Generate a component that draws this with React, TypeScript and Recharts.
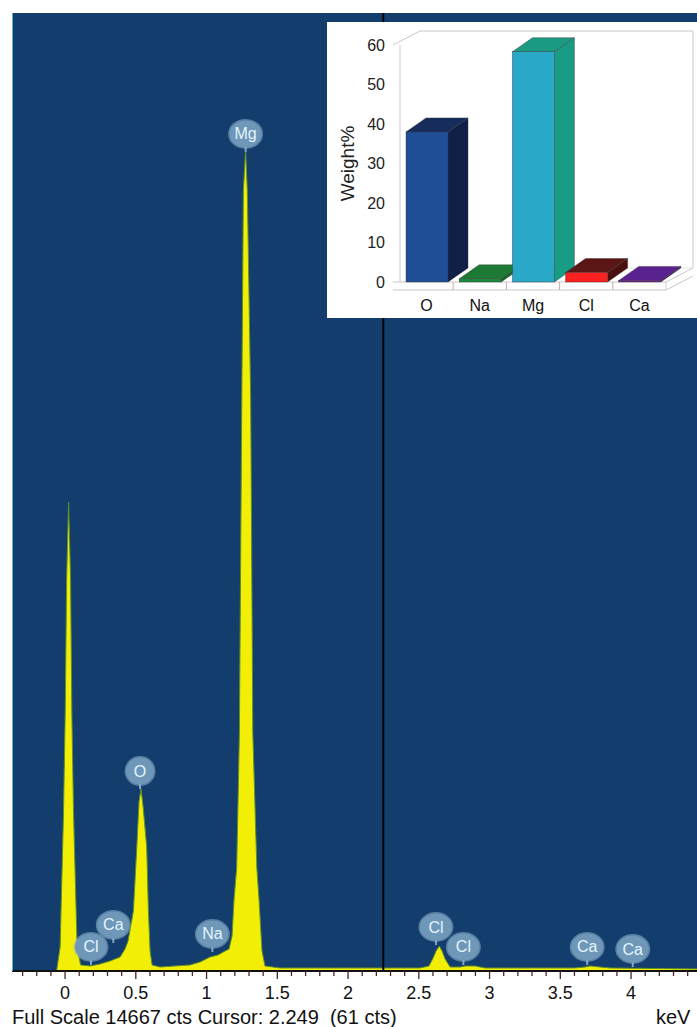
import React from 'react';
import {
    AreaChart, Area, XAxis, YAxis, CartesianGrid, ReferenceLine, ReferenceDot,
    BarChart, Bar
} from 'recharts';

// EDS spectrum (keV, counts)
const energies = [
    -0.060, -0.035, -0.011, 0.001, 0.011, 0.025, 0.039, 0.048, 0.060, 0.085, 0.110,
    0.177, 0.247, 0.318, 0.389, 0.424, 0.445, 0.459, 0.483, 0.507, 0.523, 0.537,
    0.551, 0.577, 0.589, 0.601, 0.615, 0.671, 0.777, 0.883, 0.954, 1.025, 1.081,
    1.131, 1.159, 1.180, 1.194, 1.213, 1.232, 1.249, 1.260, 1.276, 1.288, 1.312,
    1.327, 1.355, 1.371, 1.392, 1.413, 1.519, 1.873, 2.200, 2.509, 2.572, 2.601,
    2.622, 2.645, 2.664, 2.686, 2.721, 2.792, 2.827, 2.898, 2.968, 3.300, 3.600,
    3.675, 3.710, 3.781, 3.852, 4.466
];
const counts = [
    0, 367, 2419, 3950, 5986, 7180, 5986, 3950, 2419, 367, 92,
    77, 107, 153, 214, 337, 459, 628, 919, 1898, 2603, 2786,
    2526, 1898, 919, 306, 92, 61, 77, 92, 138, 214, 245,
    306, 337, 536, 1087, 1592, 3644, 8742, 11942, 12570, 11942, 8742,
    3644, 1592, 1087, 306, 77, 46, 46, 46, 46, 77, 199,
    306, 383, 306, 184, 61, 61, 77, 77, 46, 46, 46,
    61, 77, 61, 46, 31
];

// peak markers (element, keV, counts at stem foot)
const peakNames = ['Cl', 'Ca', 'O', 'Na', 'Mg', 'Cl', 'Cl', 'Ca', 'Ca'];
const peakKev = [0.183, 0.341, 0.530, 1.041, 1.276, 2.621, 2.815, 3.690, 4.012];
const peakCts = [92, 429, 2786, 291, 12540, 398, 92, 92, 61];

const axisTicks = [
    -0.3, -0.2, -0.1, 0, 0.1, 0.2, 0.3, 0.4, 0.5, 0.6, 0.7, 0.8, 0.9, 1, 1.1, 1.2, 1.3, 1.4,
    1.5, 1.6, 1.7, 1.8, 1.9, 2, 2.1, 2.2, 2.3, 2.4, 2.5, 2.6, 2.7, 2.8, 2.9, 3, 3.1, 3.2,
    3.3, 3.4, 3.5, 3.6, 3.7, 3.8, 3.9, 4, 4.1, 4.2, 4.3, 4.4
];

// inset: quantification
const elements = ['O', 'Na', 'Mg', 'Cl', 'Ca'];
const weightPct = [38.0, 0.8, 58.3, 2.4, 0.4];
const weightTicks = [0, 10, 20, 30, 40, 50, 60];

const FULL_SCALE = 14667;
const CURSOR = 2.249;
const NAVY = '#133d6c';
const FONT = '"Liberation Sans", Arial, sans-serif';

// front / side / top colour for each inset bar
const FACES = [
    { front: '#1f4e96', side: '#0f1f48', top: '#162c5c' },
    { front: '#1a8a3c', side: '#14662c', top: '#1d7a34' },
    { front: '#29a8c8', side: '#189c84', top: '#1a9a80' },
    { front: '#ff2020', side: '#4a1010', top: '#5c1515' },
    { front: '#6a1f8e', side: '#4a1468', top: '#5a2290' },
];

const spectrum = energies.map((kev, i) => ({ kev, cts: counts[i] }));
const composition = elements.map((el, i) => ({ el, wt: weightPct[i] }));

function AxisTick(props: any) {
    const { x, y, payload } = props;
    const v = payload.value;
    const major = Math.abs(v * 2 - Math.round(v * 2)) < 1e-6;
    return (
        <g>
            <line x1={x} y1={y} x2={x} y2={y + (major ? 8 : 5)} stroke="#4a2626" strokeWidth={1.3} />
            {major && (
                <text x={x} y={y + 28} textAnchor="middle" fontSize={18} fill="#111" fontFamily={FONT}>
                    {String(v)}
                </text>
            )}
        </g>
    );
}

function Balloon(props: any) {
    const { cx, cy, name } = props;
    const rx = name.length > 1 ? 16 : 14;
    const c = cy - 18;
    return (
        <g>
            <line x1={cx} y1={cy} x2={cx} y2={c} stroke="#7fa6c2" strokeWidth={2} />
            <ellipse cx={cx} cy={c} rx={rx + 1.5} ry={15} fill="#8fb4cf" opacity={0.55} />
            <ellipse cx={cx} cy={c} rx={rx} ry={13.5} fill="#6f98b8" />
            <text x={cx} y={c + 5.5} textAnchor="middle" fontSize={16} fill="#e4f4ff" fontFamily={FONT}>
                {name}
            </text>
        </g>
    );
}

const DX = 20;
const DY = -14;

function Bar3D(props: any) {
    const { x, y, width, height, index } = props;
    const f = FACES[index % FACES.length];
    const side = `${x + width},${y} ${x + width + DX},${y + DY} ${x + width + DX},${y + height + DY} ${x + width},${y + height}`;
    const top = `${x},${y} ${x + DX},${y + DY} ${x + width + DX},${y + DY} ${x + width},${y}`;
    return (
        <g>
            <polygon points={side} fill={f.side} stroke="#333" strokeWidth={0.4} />
            <polygon points={top} fill={f.top} stroke="#333" strokeWidth={0.4} />
            <rect x={x} y={y} width={width} height={height} fill={f.front} stroke="#333" strokeWidth={0.4} />
        </g>
    );
}

function InsetFrame() {
    // 3D box behind the inset bars (inset plot: x 73..339, y 23..260)
    const L = 73, R = 339, T = 23, B = 260;
    const band = (R - L) / elements.length;
    const g = '#c9c9c9';
    return (
        <svg width={370} height={296} style={{ position: 'absolute', left: 0, top: 0 }}>
            <line x1={L} y1={T} x2={L} y2={B} stroke={g} />
            <line x1={L - 7} y1={T} x2={L + DX} y2={T + DY} stroke={g} />
            <line x1={L + DX} y1={T + DY} x2={R + 27} y2={T + DY} stroke={g} />
            <line x1={R + 27} y1={T + DY} x2={R + 27} y2={B + DY} stroke={g} />
            <line x1={L + DX} y1={B + DY} x2={R + 27} y2={B + DY} stroke="#e2e2e2" />
            <line x1={L - 7} y1={B} x2={R} y2={B} stroke={g} />
            <line x1={L - 7} y1={B + 8} x2={R} y2={B + 8} stroke={g} />
            <line x1={R} y1={B} x2={R + 27} y2={B + DY} stroke={g} />
            <line x1={R} y1={B + 8} x2={R + 27} y2={B + 8 + DY} stroke={g} />
            <line x1={R} y1={B} x2={R} y2={B + 8} stroke={g} />
            {[1, 2, 3, 4].map((k) => (
                <line key={k} x1={L + band * k} y1={B} x2={L + band * k} y2={B + 8} stroke="#d8a8a8" />
            ))}
        </svg>
    );
}

export default function App() {
    return (
        <div style={{
            position: 'absolute', left: 0, top: 0, width: 697, height: 1027,
            background: '#fff', overflow: 'hidden', fontFamily: FONT
        }}>
            <AreaChart width={697} height={1027} data={spectrum} margin={{ top: 13, right: 0, bottom: 0, left: 12 }}>
                <CartesianGrid fill={NAVY} stroke="none" horizontal={false} vertical={false} />
                <XAxis
                    type="number"
                    dataKey="kev"
                    domain={[-0.375, 4.466]}
                    allowDataOverflow
                    ticks={axisTicks}
                    interval={0}
                    tick={<AxisTick />}
                    tickLine={false}
                    tickSize={0}
                    tickMargin={0}
                    height={56}
                    axisLine={{ stroke: '#111', strokeWidth: 2 }}
                />
                <YAxis hide domain={[0, FULL_SCALE]} allowDataOverflow />
                <Area
                    type="linear"
                    dataKey="cts"
                    fill="#f2ee05"
                    fillOpacity={1}
                    stroke="#5f8f2a"
                    strokeWidth={1}
                    isAnimationActive={false}
                />
                <ReferenceLine x={CURSOR} stroke="#050505" strokeWidth={2} />
                {peakNames.map((name, i) => (
                    <ReferenceDot
                        key={`pk-${i}`}
                        x={peakKev[i]}
                        y={peakCts[i]}
                        shape={(p: any) => <Balloon {...p} name={name} />}
                    />
                ))}
            </AreaChart>
            <div style={{ position: 'absolute', left: 12, top: 13, width: 1, height: 958, background: '#5fb8d0' }} />

            <div style={{ position: 'absolute', left: 12, top: 1007, fontSize: 20, lineHeight: '20px', color: '#111', whiteSpace: 'pre' }}>
                Full Scale 14667 cts Cursor: 2.249  (61 cts)
            </div>
            <div style={{ position: 'absolute', left: 656, top: 1007, fontSize: 20, lineHeight: '20px', color: '#111' }}>keV</div>

            <div style={{ position: 'absolute', left: 327, top: 22, width: 370, height: 296, background: '#fff' }}>
                <InsetFrame />
                <div style={{ position: 'absolute', left: 0, top: 0 }}>
                    <BarChart width={370} height={296} data={composition} margin={{ top: 23, right: 31, bottom: 0, left: 0 }} barSize={42}>
                        <XAxis
                            dataKey="el"
                            tickLine={false}
                            axisLine={false}
                            tickSize={0}
                            tickMargin={18}
                            height={36}
                            interval={0}
                            tick={{ fill: '#111', fontSize: 16, fontFamily: FONT }}
                        />
                        <YAxis
                            domain={[0, 60]}
                            ticks={weightTicks}
                            width={73}
                            tickLine={false}
                            axisLine={false}
                            tickSize={0}
                            tickMargin={15}
                            tick={{ fill: '#222', fontSize: 16, fontFamily: FONT }}
                            label={{
                                content: (p: any) => {
                                    const vb = p.viewBox;
                                    const cx = vb.x + 20;
                                    const cy = vb.y + vb.height / 2;
                                    return (
                                        <text x={cx} y={cy} transform={`rotate(-90 ${cx} ${cy})`} textAnchor="middle"
                                            dominantBaseline="central" fontSize={19} fill="#222" fontFamily={FONT}>
                                            Weight%
                                        </text>
                                    );
                                }
                            }}
                        />
                        <Bar dataKey="wt" shape={<Bar3D />} isAnimationActive={false} />
                    </BarChart>
                </div>
            </div>
        </div>
    );
}
